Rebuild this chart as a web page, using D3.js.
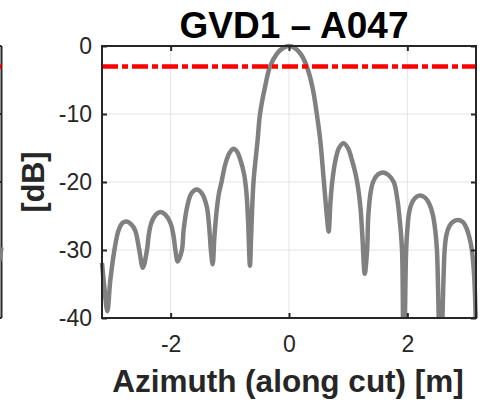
<!DOCTYPE html>
<html>
<head>
<meta charset="utf-8">
<script src="https://cdn.jsdelivr.net/npm/d3@7"></script>
<style>
  html, body { margin: 0; padding: 0; background: #fff; }
  svg { display: block; font-family: "Liberation Sans", Arial, Helvetica, sans-serif; }
</style>
</head>
<body>
<svg id="chart" width="489" height="403"></svg>
<script>
// Azimuth cut of the antenna pattern, GVD1 – A047
const azimuth = [
  -3.16, -3.12, -3.07, -3.02, -2.95, -2.88, -2.81, -2.74, -2.67, -2.60, -2.53, -2.47,
  -2.40, -2.37, -2.33, -2.25, -2.17, -2.09, -2.00, -1.95, -1.92, -1.88,
  -1.81, -1.78, -1.72, -1.65, -1.56, -1.47, -1.39, -1.35, -1.32, -1.29,
  -1.26, -1.22, -1.18, -1.14, -1.08, -1.01, -0.94, -0.88, -0.82, -0.76, -0.72, -0.69, -0.66,
  -0.64, -0.60, -0.53, -0.49, -0.40, -0.32, -0.20, -0.10, 0.00, 0.10, 0.20, 0.30, 0.40, 0.47, 0.53, 0.59, 0.64, 0.67,
  0.70, 0.73, 0.785, 0.85, 0.925, 1.00, 1.065, 1.13, 1.17, 1.21, 1.24, 1.28,
  1.32, 1.34, 1.38, 1.42, 1.50, 1.585, 1.67, 1.77, 1.83, 1.87, 1.91, 1.935,
  1.98, 2.00, 2.03, 2.08, 2.15, 2.22, 2.30, 2.37, 2.43, 2.47, 2.50, 2.56,
  2.63, 2.66, 2.71, 2.78, 2.86, 2.94, 3.00, 3.05, 3.09, 3.13, 3.16
];
const gainDb = [
  -31.9, -35.5, -39.0, -34.5, -30.0, -27.1, -26.0, -25.8, -26.2, -27.1, -30.0, -32.6,
  -30.0, -27.8, -26.1, -24.8, -24.4, -24.8, -26.1, -28.0, -30.0, -31.7,
  -30.0, -27.0, -23.6, -21.7, -21.1, -21.7, -23.6, -26.5, -30.0, -32.1,
  -28.0, -24.0, -21.5, -20.0, -17.5, -15.8, -15.1, -15.5, -16.8, -18.8, -21.5, -26.0, -32.3,
  -28.0, -20.0, -13.8, -10.0, -5.8, -3.0, -1.1, -0.3, 0.0, -0.3, -1.2, -3.0, -6.2, -10.0, -14.0, -20.0, -25.0, -27.3,
  -23.0, -20.0, -16.8, -14.9, -14.3, -15.1, -16.8, -19.0, -21.0, -24.0, -28.0, -33.5,
  -30.0, -25.0, -21.5, -20.0, -18.9, -18.6, -18.9, -20.0, -22.5, -25.5, -30.0, -48.0,
  -30.0, -27.0, -24.5, -23.0, -22.2, -22.0, -22.3, -23.2, -24.8, -27.0, -30.0, -48.0,
  -30.0, -27.8, -26.5, -25.8, -25.6, -25.9, -26.8, -28.2, -30.0, -34.0, -42.0
];
// -3 dB beamwidth reference level
const halfPowerDb = -3;

// Right-hand end of the neighbouring panel's trace
const neighbourAzimuth = [3.12, 3.16];
const neighbourGainDb = [-31.8, -29.6];

const xTicks = [-2, 0, 2];
const yTicks = [0, -10, -20, -30, -40];
const xDomain = [-3.16, 3.16];
const yDomain = [-40, 0];

const titleText = "GVD1 \u2013 A047";
const xLabelText = "Azimuth (along cut) [m]";
const yLabelText = "[dB]";

const svg = d3.select("#chart");
const pL = 102, pR = 476, pT = 46, pB = 318;
const axisColor = "#262626";
const curveColor = "#808080";

const x = d3.scaleLinear().domain(xDomain).range([pL, pR]);
const y = d3.scaleLinear().domain(yDomain).range([pB, pT]);

// neighbouring panel, only its right edge is in view
const xN = d3.scaleLinear().domain(xDomain).range([1.5 - (pR - pL), 1.5]);
const gN = svg.append("g");
gN.append("line").attr("x1", 1.5).attr("x2", 1.5).attr("y1", pT).attr("y2", pB)
  .attr("stroke", axisColor).attr("stroke-width", 2);
gN.selectAll("line.tk").data(yTicks).join("line").attr("class", "tk")
  .attr("x1", 1.5).attr("x2", -4).attr("y1", d => y(d)).attr("y2", d => y(d))
  .attr("stroke", axisColor).attr("stroke-width", 2);
gN.append("line").attr("x1", xN(xDomain[0])).attr("x2", xN(xDomain[1]))
  .attr("y1", y(halfPowerDb)).attr("y2", y(halfPowerDb))
  .attr("stroke", "#ff0000").attr("stroke-width", 4.5);
gN.append("path")
  .datum(neighbourAzimuth.map((a, i) => [a, neighbourGainDb[i]]))
  .attr("d", d3.line().x(d => xN(d[0])).y(d => y(d[1])))
  .attr("fill", "none").attr("stroke", curveColor).attr("stroke-width", 4.5);

// grid
const grid = svg.append("g").attr("stroke", "#e3e3e3").attr("stroke-width", 1);
grid.selectAll("line.gx").data(xTicks).join("line").attr("class", "gx")
  .attr("x1", d => x(d)).attr("x2", d => x(d)).attr("y1", pT).attr("y2", pB);
grid.selectAll("line.gy").data(yTicks).join("line").attr("class", "gy")
  .attr("x1", pL).attr("x2", pR).attr("y1", d => y(d)).attr("y2", d => y(d));

// clip for the plotted data
svg.append("clipPath").attr("id", "plotClip")
  .append("rect").attr("x", pL - 3).attr("y", pT - 6)
  .attr("width", pR - pL + 6).attr("height", pB - pT + 6);

const plot = svg.append("g").attr("clip-path", "url(#plotClip)");
plot.append("path")
  .datum(azimuth.map((a, i) => [a, gainDb[i]]))
  .attr("d", d3.line().x(d => x(d[0])).y(d => y(d[1])).curve(d3.curveCatmullRom.alpha(0.5)))
  .attr("fill", "none").attr("stroke", curveColor).attr("stroke-width", 4.5)
  .attr("stroke-linejoin", "round");

plot.append("line")
  .attr("x1", x(xDomain[0])).attr("x2", x(xDomain[1]))
  .attr("y1", y(halfPowerDb)).attr("y2", y(halfPowerDb))
  .attr("stroke", "#ff0000").attr("stroke-width", 4.5)
  .attr("stroke-dasharray", "16,4,6,4");

// axes
const fmt = d => d3.format("d")(d).replace("\u2212", "-");
function styleAxis(g) {
  g.select(".domain").remove();
  g.selectAll(".tick line").attr("stroke", axisColor).attr("stroke-width", 2);
  g.selectAll(".tick text").attr("fill", axisColor).style("font-size", "23px");
}
svg.append("g").attr("transform", `translate(0,${pB})`)
  .call(d3.axisBottom(x).tickValues(xTicks).tickSizeInner(-5).tickSizeOuter(0).tickPadding(17.5).tickFormat(fmt))
  .call(styleAxis);
svg.append("g").attr("transform", `translate(0,${pT})`)
  .call(d3.axisTop(x).tickValues(xTicks).tickSizeInner(-5).tickSizeOuter(0).tickFormat(""))
  .call(styleAxis);
svg.append("g").attr("transform", `translate(${pL},0)`)
  .call(d3.axisLeft(y).tickValues(yTicks).tickSizeInner(-5).tickSizeOuter(0).tickPadding(10).tickFormat(fmt))
  .call(styleAxis);
svg.append("g").attr("transform", `translate(${pR},0)`)
  .call(d3.axisRight(y).tickValues(yTicks).tickSizeInner(-5).tickSizeOuter(0).tickFormat(""))
  .call(styleAxis);

svg.append("rect").attr("x", pL).attr("y", pT).attr("width", pR - pL).attr("height", pB - pT)
  .attr("fill", "none").attr("stroke", axisColor).attr("stroke-width", 2);

// labels
svg.append("text").attr("x", 294).attr("y", 37.5).attr("text-anchor", "middle")
  .style("font-size", "37px").style("font-weight", "bold").attr("fill", "#000")
  .text(titleText);
svg.append("text").attr("x", 288).attr("y", 392).attr("text-anchor", "middle")
  .style("font-size", "31.5px").style("font-weight", "bold").attr("fill", axisColor)
  .text(xLabelText);
svg.append("text").attr("transform", `translate(44,${(pT + pB) / 2}) rotate(-90)`)
  .attr("text-anchor", "middle")
  .style("font-size", "30.5px").style("font-weight", "bold").attr("fill", axisColor)
  .text(yLabelText);
</script>
</body>
</html>
